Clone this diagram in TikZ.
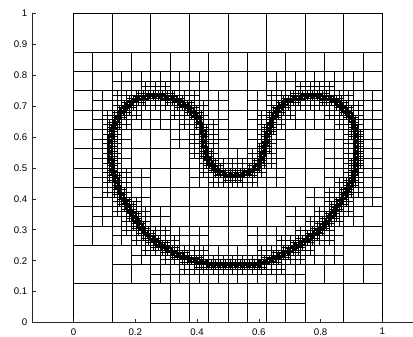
\documentclass[tikz,border=0pt]{standalone}
\usepackage{fontspec}
\setmainfont{Liberation Sans}
\usetikzlibrary{decorations.markings}

\tikzset{
  cellline/.style={line width=0.7pt},
  axisline/.style={line width=0.6pt, black!85},
  ticklabel/.style={inner sep=0pt, font=\fontsize{8}{9}\selectfont},
}

% quadtree: 1 unit = 256pt, a cell of level L is 2^(8-L) pt wide
\makeatletter
% level, cell size (pt), last index, margin (tenths of a cell)
\def\qsetsize#1#2#3#4{%
  \expandafter\def\csname qh@#1\endcsname{#2}%
  \expandafter\def\csname qn@#1\endcsname{#3}%
  \expandafter\def\csname qk@#1\endcsname{#4}}
\qsetsize{3}{32}{7}{6}\qsetsize{4}{16}{15}{6}\qsetsize{5}{8}{31}{6}
\qsetsize{6}{4}{63}{5}\qsetsize{7}{2}{127}{5}\qsetsize{8}{1}{255}{0}
\def\qflag#1#2#3{%
  \ifnum#2>\qn\space\else\ifnum#3>\qn\space\else
    \expandafter\gdef\csname qm@#1@#2@#3\endcsname{}%
  \fi\fi}
\def\qmarkrow#1#2{\qflag{#1}{#2}{\qja}\qflag{#1}{#2}{\qjm}\qflag{#1}{#2}{\qjb}}
\def\qmarklevel#1{%
  \edef\qsize{\the\numexpr\csname qh@#1\endcsname*65536\relax}%
  \edef\qmarg{\the\numexpr\qsize*\csname qk@#1\endcsname/10\relax}%
  \edef\qn{\csname qn@#1\endcsname}%
  \edef\qia{\the\numexpr(\qx-\qmarg-\qsize/2)/\qsize\relax}%
  \edef\qib{\the\numexpr(\qx+\qmarg-\qsize/2)/\qsize\relax}%
  \edef\qja{\the\numexpr(\qy-\qmarg-\qsize/2)/\qsize\relax}%
  \edef\qjb{\the\numexpr(\qy+\qmarg-\qsize/2)/\qsize\relax}%
  \ifnum\qia<0 \def\qia{0}\fi
  \ifnum\qja<0 \def\qja{0}\fi
  \edef\qim{\the\numexpr\qia+\ifnum\qia<\qib\space1\else0\fi\relax}%
  \edef\qjm{\the\numexpr\qja+\ifnum\qja<\qjb\space1\else0\fi\relax}%
  \qmarkrow{#1}{\qia}\qmarkrow{#1}{\qim}\qmarkrow{#1}{\qib}}
\def\qmark{%
  \pgfpointtransformed{\pgfpointorigin}%
  \edef\qx{\number\pgf@x}\edef\qy{\number\pgf@y}%
  \qmarklevel{3}\qmarklevel{4}\qmarklevel{5}\qmarklevel{6}\qmarklevel{7}}
\def\qcell#1#2#3{%
  \begingroup
  \ifcsname qm@#1@#2@#3\endcsname
    \def\qnext{\qsplit{#1}{#2}{#3}}%
  \else
    \def\qnext{\qleaf{#1}{#2}{#3}}%
  \fi
  \qnext
  \endgroup}
\def\qsplit#1#2#3{%
  \edef\qdo{%
    \noexpand\qcell{\the\numexpr#1+1\relax}{\the\numexpr2*#2\relax}{\the\numexpr2*#3\relax}%
    \noexpand\qcell{\the\numexpr#1+1\relax}{\the\numexpr2*#2+1\relax}{\the\numexpr2*#3\relax}%
    \noexpand\qcell{\the\numexpr#1+1\relax}{\the\numexpr2*#2\relax}{\the\numexpr2*#3+1\relax}%
    \noexpand\qcell{\the\numexpr#1+1\relax}{\the\numexpr2*#2+1\relax}{\the\numexpr2*#3+1\relax}}%
  \qdo}
\def\qleaf#1#2#3{%
  \edef\qs{\csname qh@#1\endcsname}%
  \edef\qxa{\the\numexpr#2*\qs\relax}\edef\qya{\the\numexpr#3*\qs\relax}%
  \draw[cellline] (\qxa pt,\qya pt) rectangle ++(\qs pt,\qs pt);}
\makeatother

\begin{document}
\begin{tikzpicture}[x=256pt, y=256pt]
    \useasboundingbox (-0.238,-0.044) rectangle (1.099,1.044);
    % flag the cells near the curve
    \path[decorate, decoration={markings, mark=between positions 0 and 1 step 0.5pt with {\qmark}}]
      plot[smooth cycle, tension=0.5] coordinates {
        (0.50,0.188) (0.60,0.191) (0.668,0.216) (0.733,0.254) (0.782,0.288)
        (0.819,0.326) (0.852,0.373) (0.884,0.423) (0.908,0.476) (0.917,0.55)
        (0.913,0.62) (0.898,0.665) (0.873,0.695) (0.84,0.72) (0.79,0.732)
        (0.74,0.73) (0.695,0.718) (0.664,0.69) (0.641,0.654) (0.626,0.60)
        (0.614,0.546) (0.593,0.505) (0.552,0.481) (0.508,0.476) (0.465,0.491)
        (0.437,0.524) (0.425,0.57) (0.418,0.62) (0.40,0.665) (0.366,0.699)
        (0.323,0.724) (0.265,0.732) (0.207,0.724) (0.163,0.692) (0.136,0.65)
        (0.121,0.60) (0.118,0.55) (0.125,0.50) (0.139,0.452) (0.161,0.40)
        (0.194,0.346) (0.227,0.297) (0.269,0.259) (0.323,0.227) (0.377,0.205)
        (0.43,0.192)};
    % the mesh
    \foreach \i in {0,...,7} {\foreach \j in {0,...,7} {\qcell{3}{\i}{\j}}}

    % axes
    \coordinate (top) at (-0.1333,1);
    \coordinate (orig) at (-0.1333,0);
    \coordinate (right) at (1.1,0);
    \draw[axisline] (top) -- (orig) -- (right);
    \foreach \n in {0,...,10} {
        \draw[axisline] (-0.1333,\n/10) -- ++(0.011,0);
        \node[ticklabel, anchor=east] (ylab\n) at (-0.149,\n/10)
            {\ifnum\n=0 0\else\ifnum\n=10 1\else 0.\n\fi\fi};
    }
    \foreach \n in {0,2,...,10} {
        \draw[axisline] (\n/10,0) -- ++(0,0.011);
        \node[ticklabel, anchor=north] (xlab\n) at (\n/10,-0.018)
            {\ifnum\n=0 0\else\ifnum\n=10 1\else 0.\n\fi\fi};
    }
\end{tikzpicture}
\end{document}
